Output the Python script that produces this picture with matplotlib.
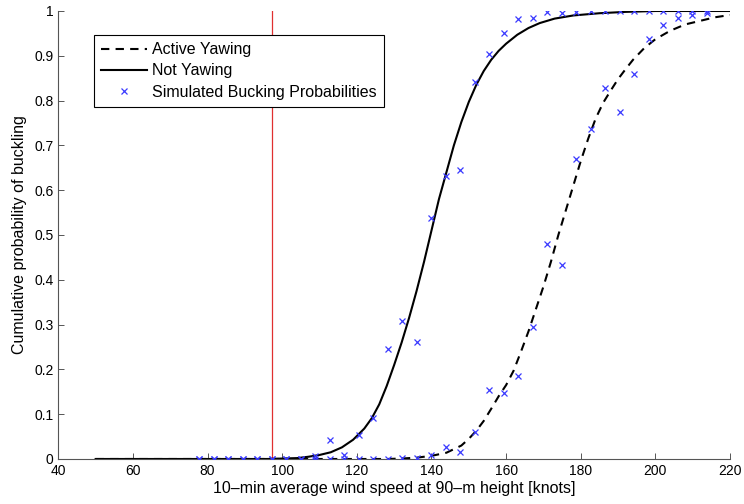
"""Cumulative buckling probability vs. 10-min wind speed, yawing vs. not yawing."""
import matplotlib
matplotlib.use('Agg')
import matplotlib.pyplot as plt

plt.rcParams['font.family'] = ['Liberation Sans', 'DejaVu Sans']
plt.rcParams['font.size'] = 10

# simulated points: wind speed (knots), i.e. 40..110 m/s in 2 m/s steps
sim_speed = [77.75, 81.64, 85.53, 89.42, 93.30, 97.19, 101.08, 104.97, 108.86,
             112.74, 116.63, 120.52, 124.41, 128.29, 132.18, 136.07, 139.96,
             143.84, 147.73, 151.62, 155.51, 159.39, 163.28, 167.17, 171.06,
             174.95, 178.83, 182.72, 186.61, 190.50, 194.38, 198.27, 202.16,
             206.05, 209.93, 213.82]
sim_not_yawing = [0, 0, 0, 0, 0, 0, 0, 0, 0.007, 0.042, 0.008, 0.054, 0.091,
                  0.245, 0.307, 0.262, 0.537, 0.632, 0.644, 0.842, 0.903, 0.951,
                  0.981, 0.984, 0.998, 0.995, 0.998, 1.0, 1.0, 1.0, 1.0, 1.0,
                  1.0, 1.0, 1.0, 1.0]
sim_active_yawing = [0, 0, 0, 0, 0, 0, 0, 0, 0, 0, 0, 0, 0, 0, 0.002, 0.002,
                     0.009, 0.027, 0.015, 0.060, 0.154, 0.147, 0.185, 0.295,
                     0.479, 0.433, 0.670, 0.736, 0.829, 0.775, 0.859, 0.938,
                     0.969, 0.985, 0.991, 0.996]

# fitted curves
fit_not_speed = [50, 96, 100, 104, 107, 110, 113, 116, 119, 122, 124, 126, 128,
                 130, 132, 134, 136, 138, 140, 142, 144, 146, 148, 150, 152,
                 154, 156, 158, 160, 163, 166, 169, 173, 178, 185, 192, 200, 220]
fit_not_prob = [0, 0, 0.001, 0.002, 0.005, 0.009, 0.015, 0.026, 0.043, 0.068,
                0.091, 0.122, 0.163, 0.21, 0.26, 0.315, 0.375, 0.44, 0.51, 0.58,
                0.64, 0.70, 0.752, 0.797, 0.835, 0.866, 0.891, 0.911, 0.927,
                0.947, 0.962, 0.973, 0.983, 0.990, 0.995, 0.998, 1.0, 1.0]
fit_act_speed = [50, 128, 132, 136, 140, 144, 148, 150, 152, 154, 156, 158, 160,
                 162, 164, 166, 168, 170, 172, 174, 176, 178, 180, 182, 184,
                 186, 188, 190, 192, 194, 197, 200, 204, 208, 212, 216, 220]
fit_act_prob = [0, 0, 0.001, 0.003, 0.007, 0.014, 0.03, 0.045, 0.063, 0.085,
                0.112, 0.14, 0.165, 0.197, 0.24, 0.285, 0.335, 0.385, 0.44, 0.5,
                0.555, 0.61, 0.665, 0.715, 0.76, 0.795, 0.822, 0.848, 0.87,
                0.891, 0.917, 0.937, 0.956, 0.970, 0.978, 0.986, 0.991]

limit_speed = 97.19  # 50 m/s

fig = plt.figure(figsize=(7.44, 5.04), dpi=100)
ax = fig.add_axes([0.0784, 0.0893, 0.9028, 0.8889])

ax.axvline(limit_speed, color='#e03030', linewidth=0.9, zorder=1)
ax.plot(fit_act_speed, fit_act_prob, color='black', linestyle=(0, (4, 3)),
        linewidth=1.5, label='Active Yawing', zorder=2)
ax.plot(fit_not_speed, fit_not_prob, color='black', linestyle='-',
        linewidth=1.5, label='Not Yawing', zorder=2)
ax.plot(sim_speed, sim_not_yawing, linestyle='none', marker='x', markersize=4.5,
        markeredgewidth=0.9, color='#3a3aff',
        label='Simulated Bucking Probabilities', zorder=3)
ax.plot(sim_speed, sim_active_yawing, linestyle='none', marker='x',
        markersize=4.5, markeredgewidth=0.9, color='#3a3aff', zorder=3)

ax.set_xlim(40, 220)
ax.set_ylim(0, 1)
ax.set_xticks(range(40, 221, 20))
ax.set_yticks([i / 10 for i in range(11)])
ax.set_yticklabels(['0', '0.1', '0.2', '0.3', '0.4', '0.5', '0.6', '0.7',
                    '0.8', '0.9', '1'])
ax.tick_params(direction='in', length=4, width=0.7, color='#555555',
               labelsize=10)
for side in ('top', 'right'):
    ax.spines[side].set_visible(False)
for side in ('left', 'bottom'):
    ax.spines[side].set_color('#555555')
    ax.spines[side].set_linewidth(0.8)

ax.set_xlabel('10\u2013min average wind speed at 90\u2013m height [knots]',
              fontsize=11.5, labelpad=2)
ax.set_ylabel('Cumulative probability of buckling', fontsize=11.5, labelpad=5)

leg = ax.legend(loc='upper left', bbox_to_anchor=(0.053, 0.946),
                borderaxespad=0, fancybox=False, framealpha=1,
                edgecolor='black', fontsize=11.5, handlelength=2.9,
                borderpad=0.45, labelspacing=0.38, handletextpad=0.3)
leg.get_frame().set_linewidth(0.8)
leg.set_zorder(5)

fig.savefig('out.png', dpi=100)
